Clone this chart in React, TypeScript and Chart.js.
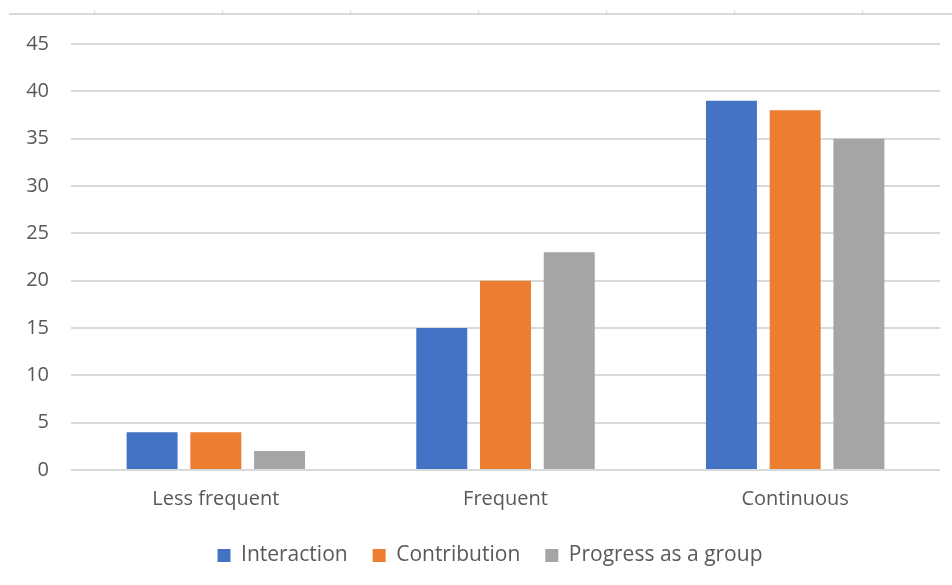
import React, { useEffect, useRef } from "react";
import { Chart, registerables } from "chart.js";

Chart.register(...registerables);

const categories = ["Less frequent", "Frequent", "Continuous"];
const interaction = [4, 15, 39];
const contribution = [4, 20, 38];
const progressAsGroup = [2, 23, 35];
const yTicks = [0, 5, 10, 15, 20, 25, 30, 35, 40, 45];

const seriesNames = ["Interaction", "Contribution", "Progress as a group"];
const seriesColors = ["#4472C4", "#ED7D31", "#A5A5A5"];

const FONT = "'Open Sans', 'Noto Sans', sans-serif";
const TEXT = "#595959";
const GRID = "#D9D9D9";

// Thin frame edge with small ticks running across the top of the page
const topTicks = [94, 222, 350, 478, 606, 734, 862];

// Nudge the legend so it is centred a little to the right of the canvas centre
const legendNudge = {
  id: "legendNudge",
  afterLayout(chart: any) {
    if (chart.legend) chart.legend.left += 40;
  },
};

export default function App() {
  const canvasRef = useRef<HTMLCanvasElement | null>(null);

  useEffect(() => {
    document.body.style.margin = "0";
    const canvas = canvasRef.current;
    if (!canvas) return;
    const chart = new Chart(canvas, {
      type: "bar",
      data: {
        labels: categories,
        datasets: [interaction, contribution, progressAsGroup].map((d, i) => ({
          label: seriesNames[i],
          data: d,
          backgroundColor: seriesColors[i],
          borderWidth: 0,
          categoryPercentage: 0.66,
          barPercentage: 0.8,
        })),
      },
      options: {
        animation: false,
        responsive: false,
        maintainAspectRatio: false,
        layout: { padding: { top: 44, right: 12, bottom: 9, left: 0 } },
        scales: {
          x: {
            grid: { display: false },
            border: { display: false },
            ticks: {
              color: TEXT,
              font: { family: FONT, size: 20 },
              padding: 9,
            },
            afterFit: (s: any) => {
              s.height = 50;
            },
          },
          y: {
            min: 0,
            max: 45,
            afterBuildTicks: (s: any) => {
              s.ticks = yTicks.map((v) => ({ value: v }));
            },
            grid: { color: GRID, lineWidth: 2, drawTicks: false },
            border: { display: false },
            ticks: {
              color: TEXT,
              font: { family: FONT, size: 20 },
              padding: 22,
            },
            afterFit: (s: any) => {
              s.width = 71;
            },
          },
        },
        plugins: {
          legend: {
            position: "bottom",
            labels: {
              color: TEXT,
              font: { family: FONT, size: 21 },
              boxWidth: 13,
              boxHeight: 13,
              padding: 25,
            },
          },
          tooltip: { enabled: false },
        },
      },
      plugins: [legendNudge],
    });
    return () => chart.destroy();
  }, []);

  return (
    <div style={{ position: "relative", width: 952, height: 585, background: "#fff" }}>
      <div
        style={{
          position: "absolute",
          left: 9,
          right: 0,
          top: 13,
          height: 2,
          background: GRID,
        }}
      />
      {topTicks.map((x) => (
        <div
          key={x}
          style={{ position: "absolute", left: x, top: 10, width: 1, height: 4, background: GRID }}
        />
      ))}
      <canvas ref={canvasRef} width={952} height={585} style={{ position: "absolute", left: 0, top: 0 }} />
    </div>
  );
}
